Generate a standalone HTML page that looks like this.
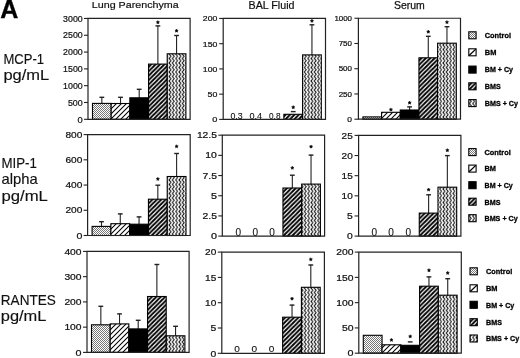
<!DOCTYPE html>
<html><head><meta charset="utf-8"><style>
html,body{margin:0;padding:0;background:#fff;}
body{width:520px;height:358px;overflow:hidden;}
svg{display:block;will-change:transform;filter:blur(0.3px);}
text{font-family:"Liberation Sans", sans-serif;}
</style></head><body>
<svg width="520" height="358" viewBox="0 0 520 358">
<defs>
<pattern id="pCtl" width="2" height="2" patternUnits="userSpaceOnUse">
<rect width="2" height="2" fill="#fff"/><rect x="0" y="0" width="1" height="1" fill="#777"/><rect x="1" y="1" width="1" height="1" fill="#777"/>
</pattern>
<pattern id="pBM" width="5" height="5" patternUnits="userSpaceOnUse">
<rect width="5" height="5" fill="#fff"/>
<path d="M-1.25,6.25 L6.25,-1.25 M-1.25,1.25 L1.25,-1.25 M3.75,6.25 L6.25,3.75" stroke="#000" stroke-width="1.05"/>
</pattern>
<pattern id="pBMS" width="4.4" height="4.4" patternUnits="userSpaceOnUse">
<rect width="4.4" height="4.4" fill="#fff"/>
<path d="M-1.1,5.5 L5.5,-1.1 M-1.1,1.1 L1.1,-1.1 M3.3,5.5 L5.5,3.3" stroke="#000" stroke-width="1.9"/>
</pattern>
<pattern id="pBMSC" width="3.3" height="4.5" patternUnits="userSpaceOnUse">
<rect width="3.3" height="4.5" fill="#fff"/>
<path d="M0.6,-0.2 L2.7,2.25 L0.6,4.7" stroke="#000" stroke-width="1.0" fill="none"/>
</pattern>
</defs>

<text x="0.30" y="17.70" font-size="25.00" font-weight="bold" text-anchor="start" fill="#000" stroke="#000" stroke-width="0.35">A</text>
<text x="91.80" y="8.10" font-size="9.90" font-weight="normal" text-anchor="start" fill="#111" stroke="#111" stroke-width="0.2" textLength="86.90" lengthAdjust="spacingAndGlyphs">Lung Parenchyma</text>
<text x="248.60" y="8.50" font-size="10.10" font-weight="normal" text-anchor="start" fill="#111" stroke="#111" stroke-width="0.2" textLength="45.90" lengthAdjust="spacingAndGlyphs">BAL Fluid</text>
<text x="394.00" y="8.70" font-size="10.60" font-weight="normal" text-anchor="start" fill="#111" stroke="#111" stroke-width="0.25" textLength="30.80" lengthAdjust="spacingAndGlyphs">Serum</text>
<text x="3.40" y="63.60" font-size="14.20" font-weight="normal" text-anchor="start" fill="#111" stroke="#111" stroke-width="0.15" textLength="40.60" lengthAdjust="spacingAndGlyphs">MCP-1</text>
<text x="3.40" y="79.90" font-size="14.20" font-weight="normal" text-anchor="start" fill="#111" stroke="#111" stroke-width="0.15" textLength="45.80" lengthAdjust="spacingAndGlyphs">pg/mL</text>
<text x="1.50" y="167.60" font-size="14.20" font-weight="normal" text-anchor="start" fill="#111" stroke="#111" stroke-width="0.15" textLength="35.40" lengthAdjust="spacingAndGlyphs">MIP-1</text>
<text x="1.50" y="184.10" font-size="14.20" font-weight="normal" text-anchor="start" fill="#111" stroke="#111" stroke-width="0.15" textLength="36.20" lengthAdjust="spacingAndGlyphs">alpha</text>
<text x="1.50" y="200.60" font-size="14.20" font-weight="normal" text-anchor="start" fill="#111" stroke="#111" stroke-width="0.15" textLength="46.40" lengthAdjust="spacingAndGlyphs">pg/mL</text>
<text x="0.80" y="305.00" font-size="14.20" font-weight="normal" text-anchor="start" fill="#111" stroke="#111" stroke-width="0.15" textLength="55.00" lengthAdjust="spacingAndGlyphs">RANTES</text>
<text x="0.80" y="321.00" font-size="14.20" font-weight="normal" text-anchor="start" fill="#111" stroke="#111" stroke-width="0.15" textLength="45.60" lengthAdjust="spacingAndGlyphs">pg/mL</text>
<line x1="101.84" y1="103.40" x2="101.84" y2="97.00" stroke="#222" stroke-width="1.1"/>
<line x1="99.44" y1="97.30" x2="104.24" y2="97.30" stroke="#222" stroke-width="1.4"/>
<rect x="92.50" y="103.40" width="18.68" height="15.90" fill="url(#pCtl)" stroke="#000" stroke-width="1.1"/>
<line x1="120.52" y1="103.50" x2="120.52" y2="97.00" stroke="#222" stroke-width="1.1"/>
<line x1="118.12" y1="97.30" x2="122.92" y2="97.30" stroke="#222" stroke-width="1.4"/>
<rect x="111.18" y="103.50" width="18.68" height="15.80" fill="url(#pBM)" stroke="#000" stroke-width="1.1"/>
<line x1="139.20" y1="97.80" x2="139.20" y2="89.00" stroke="#222" stroke-width="1.1"/>
<line x1="136.80" y1="89.30" x2="141.60" y2="89.30" stroke="#222" stroke-width="1.4"/>
<rect x="129.86" y="97.80" width="18.68" height="21.50" fill="#000" stroke="#000" stroke-width="1.1"/>
<line x1="157.88" y1="64.10" x2="157.88" y2="25.60" stroke="#222" stroke-width="1.1"/>
<line x1="155.48" y1="25.90" x2="160.28" y2="25.90" stroke="#222" stroke-width="1.4"/>
<rect x="148.54" y="64.10" width="18.68" height="55.20" fill="url(#pBMS)" stroke="#000" stroke-width="1.1"/>
<polygon points="157.88,20.60 158.38,21.61 159.50,21.77 158.69,22.56 158.88,23.68 157.88,23.15 156.88,23.68 157.07,22.56 156.26,21.77 157.38,21.61" fill="#000" stroke="#000" stroke-width="0.5"/>
<line x1="176.56" y1="53.80" x2="176.56" y2="35.20" stroke="#222" stroke-width="1.1"/>
<line x1="174.16" y1="35.50" x2="178.96" y2="35.50" stroke="#222" stroke-width="1.4"/>
<rect x="167.22" y="53.80" width="18.68" height="65.50" fill="url(#pBMSC)" stroke="#000" stroke-width="1.1"/>
<polygon points="176.56,29.10 177.06,30.11 178.18,30.27 177.37,31.06 177.56,32.18 176.56,31.65 175.56,32.18 175.75,31.06 174.94,30.27 176.06,30.11" fill="#000" stroke="#000" stroke-width="0.5"/>
<path d="M88.00,119.30 L88.00,18.45 L190.10,18.45 L190.10,119.30 Z" fill="none" stroke="#222" stroke-width="1.2"/>
<line x1="84.00" y1="119.30" x2="88.00" y2="119.30" stroke="#222" stroke-width="1.1"/>
<text x="82.70" y="122.50" font-size="8.70" font-weight="normal" text-anchor="end" fill="#111" stroke="#111" stroke-width="0.22" textLength="5.20" lengthAdjust="spacingAndGlyphs">0</text>
<line x1="84.00" y1="102.49" x2="88.00" y2="102.49" stroke="#222" stroke-width="1.1"/>
<text x="82.70" y="105.69" font-size="8.70" font-weight="normal" text-anchor="end" fill="#111" stroke="#111" stroke-width="0.22" textLength="14.80" lengthAdjust="spacingAndGlyphs">500</text>
<line x1="84.00" y1="85.68" x2="88.00" y2="85.68" stroke="#222" stroke-width="1.1"/>
<text x="82.70" y="88.88" font-size="8.70" font-weight="normal" text-anchor="end" fill="#111" stroke="#111" stroke-width="0.22" textLength="19.60" lengthAdjust="spacingAndGlyphs">1000</text>
<line x1="84.00" y1="68.88" x2="88.00" y2="68.88" stroke="#222" stroke-width="1.1"/>
<text x="82.70" y="72.08" font-size="8.70" font-weight="normal" text-anchor="end" fill="#111" stroke="#111" stroke-width="0.22" textLength="19.60" lengthAdjust="spacingAndGlyphs">1500</text>
<line x1="84.00" y1="52.07" x2="88.00" y2="52.07" stroke="#222" stroke-width="1.1"/>
<text x="82.70" y="55.27" font-size="8.70" font-weight="normal" text-anchor="end" fill="#111" stroke="#111" stroke-width="0.22" textLength="19.60" lengthAdjust="spacingAndGlyphs">2000</text>
<line x1="84.00" y1="35.26" x2="88.00" y2="35.26" stroke="#222" stroke-width="1.1"/>
<text x="82.70" y="38.46" font-size="8.70" font-weight="normal" text-anchor="end" fill="#111" stroke="#111" stroke-width="0.22" textLength="19.60" lengthAdjust="spacingAndGlyphs">2500</text>
<line x1="84.00" y1="18.45" x2="88.00" y2="18.45" stroke="#222" stroke-width="1.1"/>
<text x="82.70" y="21.65" font-size="8.70" font-weight="normal" text-anchor="end" fill="#111" stroke="#111" stroke-width="0.22" textLength="19.60" lengthAdjust="spacingAndGlyphs">3000</text>
<line x1="290.82" y1="111.60" x2="295.62" y2="111.60" stroke="#222" stroke-width="1.4"/>
<rect x="283.86" y="114.30" width="18.72" height="5.10" fill="url(#pBMS)" stroke="#000" stroke-width="1.1"/>
<polygon points="293.22,105.60 293.72,106.61 294.84,106.77 294.03,107.56 294.22,108.68 293.22,108.15 292.22,108.68 292.41,107.56 291.60,106.77 292.72,106.61" fill="#000" stroke="#000" stroke-width="0.5"/>
<line x1="311.94" y1="54.90" x2="311.94" y2="24.50" stroke="#222" stroke-width="1.1"/>
<line x1="309.54" y1="24.80" x2="314.34" y2="24.80" stroke="#222" stroke-width="1.4"/>
<rect x="302.58" y="54.90" width="18.72" height="64.50" fill="url(#pBMSC)" stroke="#000" stroke-width="1.1"/>
<polygon points="311.94,19.20 312.44,20.21 313.56,20.37 312.75,21.16 312.94,22.28 311.94,21.75 310.94,22.28 311.13,21.16 310.32,20.37 311.44,20.21" fill="#000" stroke="#000" stroke-width="0.5"/>
<text x="230.40" y="119.40" font-size="9.30" font-weight="normal" text-anchor="start" fill="#111" stroke="#111" stroke-width="0.1" textLength="12.30" lengthAdjust="spacingAndGlyphs">0.3</text>
<text x="249.40" y="119.40" font-size="9.30" font-weight="normal" text-anchor="start" fill="#111" stroke="#111" stroke-width="0.1" textLength="12.70" lengthAdjust="spacingAndGlyphs">0.4</text>
<text x="269.00" y="119.40" font-size="9.30" font-weight="normal" text-anchor="start" fill="#111" stroke="#111" stroke-width="0.1" textLength="11.50" lengthAdjust="spacingAndGlyphs">0.8</text>
<path d="M223.20,119.40 L223.20,18.45 L325.50,18.45 L325.50,119.40 Z" fill="none" stroke="#222" stroke-width="1.2"/>
<line x1="219.20" y1="119.40" x2="223.20" y2="119.40" stroke="#222" stroke-width="1.1"/>
<text x="217.30" y="122.25" font-size="7.75" font-weight="normal" text-anchor="end" fill="#111" stroke="#111" stroke-width="0.22" textLength="5.10" lengthAdjust="spacingAndGlyphs">0</text>
<line x1="219.20" y1="94.16" x2="223.20" y2="94.16" stroke="#222" stroke-width="1.1"/>
<text x="217.30" y="97.01" font-size="7.75" font-weight="normal" text-anchor="end" fill="#111" stroke="#111" stroke-width="0.22" textLength="9.80" lengthAdjust="spacingAndGlyphs">50</text>
<line x1="219.20" y1="68.93" x2="223.20" y2="68.93" stroke="#222" stroke-width="1.1"/>
<text x="217.30" y="71.78" font-size="7.75" font-weight="normal" text-anchor="end" fill="#111" stroke="#111" stroke-width="0.22" textLength="14.50" lengthAdjust="spacingAndGlyphs">100</text>
<line x1="219.20" y1="43.69" x2="223.20" y2="43.69" stroke="#222" stroke-width="1.1"/>
<text x="217.30" y="46.54" font-size="7.75" font-weight="normal" text-anchor="end" fill="#111" stroke="#111" stroke-width="0.22" textLength="14.50" lengthAdjust="spacingAndGlyphs">150</text>
<line x1="219.20" y1="18.45" x2="223.20" y2="18.45" stroke="#222" stroke-width="1.1"/>
<text x="217.30" y="21.30" font-size="7.75" font-weight="normal" text-anchor="end" fill="#111" stroke="#111" stroke-width="0.22" textLength="14.50" lengthAdjust="spacingAndGlyphs">200</text>
<rect x="362.90" y="116.90" width="18.68" height="2.30" fill="url(#pCtl)" stroke="#000" stroke-width="1.1"/>
<rect x="381.58" y="112.30" width="18.68" height="6.90" fill="url(#pBM)" stroke="#000" stroke-width="1.1"/>
<polygon points="390.92,107.90 391.42,108.91 392.54,109.07 391.73,109.86 391.92,110.98 390.92,110.45 389.92,110.98 390.11,109.86 389.30,109.07 390.42,108.91" fill="#000" stroke="#000" stroke-width="0.5"/>
<line x1="409.60" y1="110.00" x2="409.60" y2="106.60" stroke="#222" stroke-width="1.1"/>
<line x1="407.20" y1="106.90" x2="412.00" y2="106.90" stroke="#222" stroke-width="1.4"/>
<rect x="400.26" y="110.00" width="18.68" height="9.20" fill="#000" stroke="#000" stroke-width="1.1"/>
<polygon points="409.60,101.10 410.10,102.11 411.22,102.27 410.41,103.06 410.60,104.18 409.60,103.65 408.60,104.18 408.79,103.06 407.98,102.27 409.10,102.11" fill="#000" stroke="#000" stroke-width="0.5"/>
<line x1="428.28" y1="57.80" x2="428.28" y2="36.00" stroke="#222" stroke-width="1.1"/>
<line x1="425.88" y1="36.30" x2="430.68" y2="36.30" stroke="#222" stroke-width="1.4"/>
<rect x="418.94" y="57.80" width="18.68" height="61.40" fill="url(#pBMS)" stroke="#000" stroke-width="1.1"/>
<polygon points="428.28,30.10 428.78,31.11 429.90,31.27 429.09,32.06 429.28,33.18 428.28,32.65 427.28,33.18 427.47,32.06 426.66,31.27 427.78,31.11" fill="#000" stroke="#000" stroke-width="0.5"/>
<line x1="446.96" y1="43.20" x2="446.96" y2="26.40" stroke="#222" stroke-width="1.1"/>
<line x1="444.56" y1="26.70" x2="449.36" y2="26.70" stroke="#222" stroke-width="1.4"/>
<rect x="437.62" y="43.20" width="18.68" height="76.00" fill="url(#pBMSC)" stroke="#000" stroke-width="1.1"/>
<polygon points="446.96,20.50 447.46,21.51 448.58,21.67 447.77,22.46 447.96,23.58 446.96,23.05 445.96,23.58 446.15,22.46 445.34,21.67 446.46,21.51" fill="#000" stroke="#000" stroke-width="0.5"/>
<path d="M358.40,119.20 L358.40,18.25 L460.50,18.25 L460.50,119.20 Z" fill="none" stroke="#222" stroke-width="1.2"/>
<line x1="354.40" y1="119.20" x2="358.40" y2="119.20" stroke="#222" stroke-width="1.1"/>
<text x="352.00" y="121.90" font-size="7.34" font-weight="normal" text-anchor="end" fill="#111" stroke="#111" stroke-width="0.22" textLength="4.70" lengthAdjust="spacingAndGlyphs">0</text>
<line x1="354.40" y1="93.96" x2="358.40" y2="93.96" stroke="#222" stroke-width="1.1"/>
<text x="352.00" y="96.66" font-size="7.34" font-weight="normal" text-anchor="end" fill="#111" stroke="#111" stroke-width="0.22" textLength="13.30" lengthAdjust="spacingAndGlyphs">250</text>
<line x1="354.40" y1="68.72" x2="358.40" y2="68.72" stroke="#222" stroke-width="1.1"/>
<text x="352.00" y="71.42" font-size="7.34" font-weight="normal" text-anchor="end" fill="#111" stroke="#111" stroke-width="0.22" textLength="13.30" lengthAdjust="spacingAndGlyphs">500</text>
<line x1="354.40" y1="43.49" x2="358.40" y2="43.49" stroke="#222" stroke-width="1.1"/>
<text x="352.00" y="46.19" font-size="7.34" font-weight="normal" text-anchor="end" fill="#111" stroke="#111" stroke-width="0.22" textLength="13.30" lengthAdjust="spacingAndGlyphs">750</text>
<line x1="354.40" y1="18.25" x2="358.40" y2="18.25" stroke="#222" stroke-width="1.1"/>
<text x="352.00" y="20.95" font-size="7.34" font-weight="normal" text-anchor="end" fill="#111" stroke="#111" stroke-width="0.22" textLength="17.60" lengthAdjust="spacingAndGlyphs">1000</text>
<line x1="101.49" y1="226.40" x2="101.49" y2="221.40" stroke="#222" stroke-width="1.1"/>
<line x1="99.09" y1="221.70" x2="103.89" y2="221.70" stroke="#222" stroke-width="1.4"/>
<rect x="92.10" y="226.40" width="18.78" height="9.10" fill="url(#pCtl)" stroke="#000" stroke-width="1.1"/>
<line x1="120.27" y1="223.70" x2="120.27" y2="213.60" stroke="#222" stroke-width="1.1"/>
<line x1="117.87" y1="213.90" x2="122.67" y2="213.90" stroke="#222" stroke-width="1.4"/>
<rect x="110.88" y="223.70" width="18.78" height="11.80" fill="url(#pBM)" stroke="#000" stroke-width="1.1"/>
<line x1="139.05" y1="224.20" x2="139.05" y2="216.60" stroke="#222" stroke-width="1.1"/>
<line x1="136.65" y1="216.90" x2="141.45" y2="216.90" stroke="#222" stroke-width="1.4"/>
<rect x="129.66" y="224.20" width="18.78" height="11.30" fill="#000" stroke="#000" stroke-width="1.1"/>
<line x1="157.83" y1="199.20" x2="157.83" y2="184.90" stroke="#222" stroke-width="1.1"/>
<line x1="155.43" y1="185.20" x2="160.23" y2="185.20" stroke="#222" stroke-width="1.4"/>
<rect x="148.44" y="199.20" width="18.78" height="36.30" fill="url(#pBMS)" stroke="#000" stroke-width="1.1"/>
<polygon points="157.83,177.30 158.33,178.31 159.45,178.47 158.64,179.26 158.83,180.38 157.83,179.85 156.83,180.38 157.02,179.26 156.21,178.47 157.33,178.31" fill="#000" stroke="#000" stroke-width="0.5"/>
<line x1="176.61" y1="176.50" x2="176.61" y2="153.20" stroke="#222" stroke-width="1.1"/>
<line x1="174.21" y1="153.50" x2="179.01" y2="153.50" stroke="#222" stroke-width="1.4"/>
<rect x="167.22" y="176.50" width="18.78" height="59.00" fill="url(#pBMSC)" stroke="#000" stroke-width="1.1"/>
<polygon points="176.61,144.70 177.11,145.71 178.23,145.87 177.42,146.66 177.61,147.78 176.61,147.25 175.61,147.78 175.80,146.66 174.99,145.87 176.11,145.71" fill="#000" stroke="#000" stroke-width="0.5"/>
<path d="M87.60,235.50 L87.60,134.60 L190.20,134.60 L190.20,235.50 Z" fill="none" stroke="#222" stroke-width="1.2"/>
<line x1="83.60" y1="235.50" x2="87.60" y2="235.50" stroke="#222" stroke-width="1.1"/>
<text x="82.30" y="238.70" font-size="8.70" font-weight="normal" text-anchor="end" fill="#111" stroke="#111" stroke-width="0.22" textLength="5.90" lengthAdjust="spacingAndGlyphs">0</text>
<line x1="83.60" y1="210.28" x2="87.60" y2="210.28" stroke="#222" stroke-width="1.1"/>
<text x="82.30" y="213.47" font-size="8.70" font-weight="normal" text-anchor="end" fill="#111" stroke="#111" stroke-width="0.22" textLength="16.90" lengthAdjust="spacingAndGlyphs">200</text>
<line x1="83.60" y1="185.05" x2="87.60" y2="185.05" stroke="#222" stroke-width="1.1"/>
<text x="82.30" y="188.25" font-size="8.70" font-weight="normal" text-anchor="end" fill="#111" stroke="#111" stroke-width="0.22" textLength="16.90" lengthAdjust="spacingAndGlyphs">400</text>
<line x1="83.60" y1="159.82" x2="87.60" y2="159.82" stroke="#222" stroke-width="1.1"/>
<text x="82.30" y="163.02" font-size="8.70" font-weight="normal" text-anchor="end" fill="#111" stroke="#111" stroke-width="0.22" textLength="16.90" lengthAdjust="spacingAndGlyphs">600</text>
<line x1="83.60" y1="134.60" x2="87.60" y2="134.60" stroke="#222" stroke-width="1.1"/>
<text x="82.30" y="137.80" font-size="8.70" font-weight="normal" text-anchor="end" fill="#111" stroke="#111" stroke-width="0.22" textLength="16.90" lengthAdjust="spacingAndGlyphs">800</text>
<line x1="292.32" y1="188.00" x2="292.32" y2="174.90" stroke="#222" stroke-width="1.1"/>
<line x1="289.92" y1="175.20" x2="294.72" y2="175.20" stroke="#222" stroke-width="1.4"/>
<rect x="282.96" y="188.00" width="18.72" height="48.10" fill="url(#pBMS)" stroke="#000" stroke-width="1.1"/>
<polygon points="292.32,166.20 292.82,167.21 293.94,167.37 293.13,168.16 293.32,169.28 292.32,168.75 291.32,169.28 291.51,168.16 290.70,167.37 291.82,167.21" fill="#000" stroke="#000" stroke-width="0.5"/>
<line x1="311.04" y1="184.10" x2="311.04" y2="154.80" stroke="#222" stroke-width="1.1"/>
<line x1="308.64" y1="155.10" x2="313.44" y2="155.10" stroke="#222" stroke-width="1.4"/>
<rect x="301.68" y="184.10" width="18.72" height="52.00" fill="url(#pBMSC)" stroke="#000" stroke-width="1.1"/>
<polygon points="311.04,145.00 311.54,146.01 312.66,146.17 311.85,146.96 312.04,148.08 311.04,147.55 310.04,148.08 310.23,146.96 309.42,146.17 310.54,146.01" fill="#000" stroke="#000" stroke-width="0.5"/>
<text x="235.50" y="236.30" font-size="10.20" font-weight="normal" text-anchor="start" fill="#111" stroke="#111" stroke-width="0.1" textLength="5.60" lengthAdjust="spacingAndGlyphs">0</text>
<text x="252.40" y="236.30" font-size="10.20" font-weight="normal" text-anchor="start" fill="#111" stroke="#111" stroke-width="0.1" textLength="5.60" lengthAdjust="spacingAndGlyphs">0</text>
<text x="269.30" y="236.30" font-size="10.20" font-weight="normal" text-anchor="start" fill="#111" stroke="#111" stroke-width="0.1" textLength="5.60" lengthAdjust="spacingAndGlyphs">0</text>
<path d="M222.30,236.10 L222.30,135.20 L324.60,135.20 L324.60,236.10 Z" fill="none" stroke="#222" stroke-width="1.2"/>
<line x1="218.30" y1="236.10" x2="222.30" y2="236.10" stroke="#222" stroke-width="1.1"/>
<text x="216.90" y="239.20" font-size="8.43" font-weight="normal" text-anchor="end" fill="#111" stroke="#111" stroke-width="0.22" textLength="6.00" lengthAdjust="spacingAndGlyphs">0</text>
<line x1="218.30" y1="215.92" x2="222.30" y2="215.92" stroke="#222" stroke-width="1.1"/>
<text x="216.90" y="219.02" font-size="8.43" font-weight="normal" text-anchor="end" fill="#111" stroke="#111" stroke-width="0.22" textLength="14.40" lengthAdjust="spacingAndGlyphs">2.5</text>
<line x1="218.30" y1="195.74" x2="222.30" y2="195.74" stroke="#222" stroke-width="1.1"/>
<text x="216.90" y="198.84" font-size="8.43" font-weight="normal" text-anchor="end" fill="#111" stroke="#111" stroke-width="0.22" textLength="6.00" lengthAdjust="spacingAndGlyphs">5</text>
<line x1="218.30" y1="175.56" x2="222.30" y2="175.56" stroke="#222" stroke-width="1.1"/>
<text x="216.90" y="178.66" font-size="8.43" font-weight="normal" text-anchor="end" fill="#111" stroke="#111" stroke-width="0.22" textLength="14.40" lengthAdjust="spacingAndGlyphs">7.5</text>
<line x1="218.30" y1="155.38" x2="222.30" y2="155.38" stroke="#222" stroke-width="1.1"/>
<text x="216.90" y="158.48" font-size="8.43" font-weight="normal" text-anchor="end" fill="#111" stroke="#111" stroke-width="0.22" textLength="11.60" lengthAdjust="spacingAndGlyphs">10</text>
<line x1="218.30" y1="135.20" x2="222.30" y2="135.20" stroke="#222" stroke-width="1.1"/>
<text x="216.90" y="138.30" font-size="8.43" font-weight="normal" text-anchor="end" fill="#111" stroke="#111" stroke-width="0.22" textLength="20.00" lengthAdjust="spacingAndGlyphs">12.5</text>
<line x1="428.62" y1="213.10" x2="428.62" y2="194.50" stroke="#222" stroke-width="1.1"/>
<line x1="426.22" y1="194.80" x2="431.02" y2="194.80" stroke="#222" stroke-width="1.4"/>
<rect x="419.26" y="213.10" width="18.72" height="23.00" fill="url(#pBMS)" stroke="#000" stroke-width="1.1"/>
<polygon points="428.62,188.00 429.12,189.01 430.24,189.17 429.43,189.96 429.62,191.08 428.62,190.55 427.62,191.08 427.81,189.96 427.00,189.17 428.12,189.01" fill="#000" stroke="#000" stroke-width="0.5"/>
<line x1="447.34" y1="187.20" x2="447.34" y2="155.30" stroke="#222" stroke-width="1.1"/>
<line x1="444.94" y1="155.60" x2="449.74" y2="155.60" stroke="#222" stroke-width="1.4"/>
<rect x="437.98" y="187.20" width="18.72" height="48.90" fill="url(#pBMSC)" stroke="#000" stroke-width="1.1"/>
<polygon points="447.34,148.60 447.84,149.61 448.96,149.77 448.15,150.56 448.34,151.68 447.34,151.15 446.34,151.68 446.53,150.56 445.72,149.77 446.84,149.61" fill="#000" stroke="#000" stroke-width="0.5"/>
<text x="371.60" y="236.30" font-size="10.20" font-weight="normal" text-anchor="start" fill="#111" stroke="#111" stroke-width="0.1" textLength="5.60" lengthAdjust="spacingAndGlyphs">0</text>
<text x="388.30" y="236.30" font-size="10.20" font-weight="normal" text-anchor="start" fill="#111" stroke="#111" stroke-width="0.1" textLength="5.60" lengthAdjust="spacingAndGlyphs">0</text>
<text x="405.60" y="236.30" font-size="10.20" font-weight="normal" text-anchor="start" fill="#111" stroke="#111" stroke-width="0.1" textLength="5.60" lengthAdjust="spacingAndGlyphs">0</text>
<path d="M358.60,236.10 L358.60,135.40 L460.90,135.40 L460.90,236.10 Z" fill="none" stroke="#222" stroke-width="1.2"/>
<line x1="354.60" y1="236.10" x2="358.60" y2="236.10" stroke="#222" stroke-width="1.1"/>
<text x="352.70" y="239.35" font-size="8.84" font-weight="normal" text-anchor="end" fill="#111" stroke="#111" stroke-width="0.22" textLength="5.75" lengthAdjust="spacingAndGlyphs">0</text>
<line x1="354.60" y1="215.96" x2="358.60" y2="215.96" stroke="#222" stroke-width="1.1"/>
<text x="352.70" y="219.21" font-size="8.84" font-weight="normal" text-anchor="end" fill="#111" stroke="#111" stroke-width="0.22" textLength="5.75" lengthAdjust="spacingAndGlyphs">5</text>
<line x1="354.60" y1="195.82" x2="358.60" y2="195.82" stroke="#222" stroke-width="1.1"/>
<text x="352.70" y="199.07" font-size="8.84" font-weight="normal" text-anchor="end" fill="#111" stroke="#111" stroke-width="0.22" textLength="11.10" lengthAdjust="spacingAndGlyphs">10</text>
<line x1="354.60" y1="175.68" x2="358.60" y2="175.68" stroke="#222" stroke-width="1.1"/>
<text x="352.70" y="178.93" font-size="8.84" font-weight="normal" text-anchor="end" fill="#111" stroke="#111" stroke-width="0.22" textLength="11.10" lengthAdjust="spacingAndGlyphs">15</text>
<line x1="354.60" y1="155.54" x2="358.60" y2="155.54" stroke="#222" stroke-width="1.1"/>
<text x="352.70" y="158.79" font-size="8.84" font-weight="normal" text-anchor="end" fill="#111" stroke="#111" stroke-width="0.22" textLength="11.10" lengthAdjust="spacingAndGlyphs">20</text>
<line x1="354.60" y1="135.40" x2="358.60" y2="135.40" stroke="#222" stroke-width="1.1"/>
<text x="352.70" y="138.65" font-size="8.84" font-weight="normal" text-anchor="end" fill="#111" stroke="#111" stroke-width="0.22" textLength="11.10" lengthAdjust="spacingAndGlyphs">25</text>
<line x1="100.84" y1="324.80" x2="100.84" y2="306.00" stroke="#222" stroke-width="1.1"/>
<line x1="98.44" y1="306.30" x2="103.24" y2="306.30" stroke="#222" stroke-width="1.4"/>
<rect x="91.50" y="324.80" width="18.68" height="27.60" fill="url(#pCtl)" stroke="#000" stroke-width="1.1"/>
<line x1="119.52" y1="323.90" x2="119.52" y2="313.60" stroke="#222" stroke-width="1.1"/>
<line x1="117.12" y1="313.90" x2="121.92" y2="313.90" stroke="#222" stroke-width="1.4"/>
<rect x="110.18" y="323.90" width="18.68" height="28.50" fill="url(#pBM)" stroke="#000" stroke-width="1.1"/>
<line x1="138.20" y1="328.90" x2="138.20" y2="320.00" stroke="#222" stroke-width="1.1"/>
<line x1="135.80" y1="320.30" x2="140.60" y2="320.30" stroke="#222" stroke-width="1.4"/>
<rect x="128.86" y="328.90" width="18.68" height="23.50" fill="#000" stroke="#000" stroke-width="1.1"/>
<line x1="156.88" y1="296.50" x2="156.88" y2="264.20" stroke="#222" stroke-width="1.1"/>
<line x1="154.48" y1="264.50" x2="159.28" y2="264.50" stroke="#222" stroke-width="1.4"/>
<rect x="147.54" y="296.50" width="18.68" height="55.90" fill="url(#pBMS)" stroke="#000" stroke-width="1.1"/>
<line x1="175.56" y1="335.80" x2="175.56" y2="326.00" stroke="#222" stroke-width="1.1"/>
<line x1="173.16" y1="326.30" x2="177.96" y2="326.30" stroke="#222" stroke-width="1.4"/>
<rect x="166.22" y="335.80" width="18.68" height="16.60" fill="url(#pBMSC)" stroke="#000" stroke-width="1.1"/>
<path d="M87.00,352.40 L87.00,251.40 L189.10,251.40 L189.10,352.40 Z" fill="none" stroke="#222" stroke-width="1.2"/>
<line x1="83.00" y1="352.40" x2="87.00" y2="352.40" stroke="#222" stroke-width="1.1"/>
<text x="81.60" y="355.65" font-size="8.84" font-weight="normal" text-anchor="end" fill="#111" stroke="#111" stroke-width="0.22" textLength="6.00" lengthAdjust="spacingAndGlyphs">0</text>
<line x1="83.00" y1="327.15" x2="87.00" y2="327.15" stroke="#222" stroke-width="1.1"/>
<text x="81.60" y="330.40" font-size="8.84" font-weight="normal" text-anchor="end" fill="#111" stroke="#111" stroke-width="0.22" textLength="17.20" lengthAdjust="spacingAndGlyphs">100</text>
<line x1="83.00" y1="301.90" x2="87.00" y2="301.90" stroke="#222" stroke-width="1.1"/>
<text x="81.60" y="305.15" font-size="8.84" font-weight="normal" text-anchor="end" fill="#111" stroke="#111" stroke-width="0.22" textLength="17.20" lengthAdjust="spacingAndGlyphs">200</text>
<line x1="83.00" y1="276.65" x2="87.00" y2="276.65" stroke="#222" stroke-width="1.1"/>
<text x="81.60" y="279.90" font-size="8.84" font-weight="normal" text-anchor="end" fill="#111" stroke="#111" stroke-width="0.22" textLength="17.20" lengthAdjust="spacingAndGlyphs">300</text>
<line x1="83.00" y1="251.40" x2="87.00" y2="251.40" stroke="#222" stroke-width="1.1"/>
<text x="81.60" y="254.65" font-size="8.84" font-weight="normal" text-anchor="end" fill="#111" stroke="#111" stroke-width="0.22" textLength="17.20" lengthAdjust="spacingAndGlyphs">400</text>
<line x1="292.03" y1="317.20" x2="292.03" y2="304.80" stroke="#222" stroke-width="1.1"/>
<line x1="289.63" y1="305.10" x2="294.43" y2="305.10" stroke="#222" stroke-width="1.4"/>
<rect x="282.64" y="317.20" width="18.78" height="36.10" fill="url(#pBMS)" stroke="#000" stroke-width="1.1"/>
<polygon points="292.03,297.00 292.53,298.01 293.65,298.17 292.84,298.96 293.03,300.08 292.03,299.55 291.03,300.08 291.22,298.96 290.41,298.17 291.53,298.01" fill="#000" stroke="#000" stroke-width="0.5"/>
<line x1="310.81" y1="287.30" x2="310.81" y2="264.70" stroke="#222" stroke-width="1.1"/>
<line x1="308.41" y1="265.00" x2="313.21" y2="265.00" stroke="#222" stroke-width="1.4"/>
<rect x="301.42" y="287.30" width="18.78" height="66.00" fill="url(#pBMSC)" stroke="#000" stroke-width="1.1"/>
<polygon points="310.81,257.70 311.31,258.71 312.43,258.87 311.62,259.66 311.81,260.78 310.81,260.25 309.81,260.78 310.00,259.66 309.19,258.87 310.31,258.71" fill="#000" stroke="#000" stroke-width="0.5"/>
<text x="234.30" y="352.10" font-size="9.30" font-weight="normal" text-anchor="start" fill="#111" stroke="#111" stroke-width="0.1" textLength="5.60" lengthAdjust="spacingAndGlyphs">0</text>
<text x="251.60" y="352.10" font-size="9.30" font-weight="normal" text-anchor="start" fill="#111" stroke="#111" stroke-width="0.1" textLength="5.60" lengthAdjust="spacingAndGlyphs">0</text>
<text x="268.70" y="352.10" font-size="9.30" font-weight="normal" text-anchor="start" fill="#111" stroke="#111" stroke-width="0.1" textLength="5.60" lengthAdjust="spacingAndGlyphs">0</text>
<path d="M221.80,353.30 L221.80,252.10 L324.40,252.10 L324.40,353.30 Z" fill="none" stroke="#222" stroke-width="1.2"/>
<line x1="217.80" y1="353.30" x2="221.80" y2="353.30" stroke="#222" stroke-width="1.1"/>
<text x="216.30" y="356.50" font-size="8.70" font-weight="normal" text-anchor="end" fill="#111" stroke="#111" stroke-width="0.22" textLength="5.80" lengthAdjust="spacingAndGlyphs">0</text>
<line x1="217.80" y1="328.00" x2="221.80" y2="328.00" stroke="#222" stroke-width="1.1"/>
<text x="216.30" y="331.20" font-size="8.70" font-weight="normal" text-anchor="end" fill="#111" stroke="#111" stroke-width="0.22" textLength="5.80" lengthAdjust="spacingAndGlyphs">5</text>
<line x1="217.80" y1="302.70" x2="221.80" y2="302.70" stroke="#222" stroke-width="1.1"/>
<text x="216.30" y="305.90" font-size="8.70" font-weight="normal" text-anchor="end" fill="#111" stroke="#111" stroke-width="0.22" textLength="11.20" lengthAdjust="spacingAndGlyphs">10</text>
<line x1="217.80" y1="277.40" x2="221.80" y2="277.40" stroke="#222" stroke-width="1.1"/>
<text x="216.30" y="280.60" font-size="8.70" font-weight="normal" text-anchor="end" fill="#111" stroke="#111" stroke-width="0.22" textLength="11.20" lengthAdjust="spacingAndGlyphs">15</text>
<line x1="217.80" y1="252.10" x2="221.80" y2="252.10" stroke="#222" stroke-width="1.1"/>
<text x="216.30" y="255.30" font-size="8.70" font-weight="normal" text-anchor="end" fill="#111" stroke="#111" stroke-width="0.22" textLength="11.20" lengthAdjust="spacingAndGlyphs">20</text>
<rect x="363.30" y="335.30" width="18.76" height="17.90" fill="url(#pCtl)" stroke="#000" stroke-width="1.1"/>
<rect x="382.06" y="344.80" width="18.76" height="8.40" fill="url(#pBM)" stroke="#000" stroke-width="1.1"/>
<polygon points="391.44,338.30 391.94,339.31 393.06,339.47 392.25,340.26 392.44,341.38 391.44,340.85 390.44,341.38 390.63,340.26 389.82,339.47 390.94,339.31" fill="#000" stroke="#000" stroke-width="0.5"/>
<line x1="407.80" y1="341.90" x2="412.60" y2="341.90" stroke="#222" stroke-width="1.4"/>
<rect x="400.82" y="345.30" width="18.76" height="7.90" fill="#000" stroke="#000" stroke-width="1.1"/>
<polygon points="410.20,334.70 410.70,335.71 411.82,335.87 411.01,336.66 411.20,337.78 410.20,337.25 409.20,337.78 409.39,336.66 408.58,335.87 409.70,335.71" fill="#000" stroke="#000" stroke-width="0.5"/>
<line x1="428.96" y1="286.20" x2="428.96" y2="276.60" stroke="#222" stroke-width="1.1"/>
<line x1="426.56" y1="276.90" x2="431.36" y2="276.90" stroke="#222" stroke-width="1.4"/>
<rect x="419.58" y="286.20" width="18.76" height="67.00" fill="url(#pBMS)" stroke="#000" stroke-width="1.1"/>
<polygon points="428.96,268.60 429.46,269.61 430.58,269.77 429.77,270.56 429.96,271.68 428.96,271.15 427.96,271.68 428.15,270.56 427.34,269.77 428.46,269.61" fill="#000" stroke="#000" stroke-width="0.5"/>
<line x1="447.72" y1="295.20" x2="447.72" y2="278.40" stroke="#222" stroke-width="1.1"/>
<line x1="445.32" y1="278.70" x2="450.12" y2="278.70" stroke="#222" stroke-width="1.4"/>
<rect x="438.34" y="295.20" width="18.76" height="58.00" fill="url(#pBMSC)" stroke="#000" stroke-width="1.1"/>
<polygon points="447.72,271.30 448.22,272.31 449.34,272.47 448.53,273.26 448.72,274.38 447.72,273.85 446.72,274.38 446.91,273.26 446.10,272.47 447.22,272.31" fill="#000" stroke="#000" stroke-width="0.5"/>
<path d="M358.80,353.20 L358.80,252.10 L461.30,252.10 L461.30,353.20 Z" fill="none" stroke="#222" stroke-width="1.2"/>
<line x1="354.80" y1="353.20" x2="358.80" y2="353.20" stroke="#222" stroke-width="1.1"/>
<text x="353.50" y="356.40" font-size="8.70" font-weight="normal" text-anchor="end" fill="#111" stroke="#111" stroke-width="0.22" textLength="6.00" lengthAdjust="spacingAndGlyphs">0</text>
<line x1="354.80" y1="327.93" x2="358.80" y2="327.93" stroke="#222" stroke-width="1.1"/>
<text x="353.50" y="331.12" font-size="8.70" font-weight="normal" text-anchor="end" fill="#111" stroke="#111" stroke-width="0.22" textLength="11.60" lengthAdjust="spacingAndGlyphs">50</text>
<line x1="354.80" y1="302.65" x2="358.80" y2="302.65" stroke="#222" stroke-width="1.1"/>
<text x="353.50" y="305.85" font-size="8.70" font-weight="normal" text-anchor="end" fill="#111" stroke="#111" stroke-width="0.22" textLength="17.20" lengthAdjust="spacingAndGlyphs">100</text>
<line x1="354.80" y1="277.38" x2="358.80" y2="277.38" stroke="#222" stroke-width="1.1"/>
<text x="353.50" y="280.57" font-size="8.70" font-weight="normal" text-anchor="end" fill="#111" stroke="#111" stroke-width="0.22" textLength="17.20" lengthAdjust="spacingAndGlyphs">150</text>
<line x1="354.80" y1="252.10" x2="358.80" y2="252.10" stroke="#222" stroke-width="1.1"/>
<text x="353.50" y="255.30" font-size="8.70" font-weight="normal" text-anchor="end" fill="#111" stroke="#111" stroke-width="0.22" textLength="17.20" lengthAdjust="spacingAndGlyphs">200</text>
<rect x="468.80" y="31.80" width="7.3" height="7.0" fill="url(#pCtl)" stroke="#000" stroke-width="1.1"/>
<text x="484.80" y="38.10" font-size="7.60" font-weight="bold" text-anchor="start" fill="#000" stroke="#000" stroke-width="0.3" textLength="26.20" lengthAdjust="spacingAndGlyphs">Control</text>
<rect x="468.80" y="48.80" width="7.3" height="7.0" fill="#fff" stroke="#000" stroke-width="1.1"/>
<line x1="469.10" y1="55.50" x2="475.80" y2="49.10" stroke="#000" stroke-width="1.3"/>
<text x="484.80" y="55.10" font-size="7.60" font-weight="bold" text-anchor="start" fill="#000" stroke="#000" stroke-width="0.3" textLength="11.50" lengthAdjust="spacingAndGlyphs">BM</text>
<rect x="468.80" y="66.10" width="7.3" height="7.0" fill="#000" stroke="#000" stroke-width="1.1"/>
<text x="484.80" y="72.40" font-size="7.60" font-weight="bold" text-anchor="start" fill="#000" stroke="#000" stroke-width="0.3" textLength="28.20" lengthAdjust="spacingAndGlyphs">BM + Cy</text>
<rect x="468.80" y="82.80" width="7.3" height="7.0" fill="url(#pBMS)" stroke="#000" stroke-width="1.1"/>
<text x="484.80" y="89.10" font-size="7.60" font-weight="bold" text-anchor="start" fill="#000" stroke="#000" stroke-width="0.3" textLength="15.90" lengthAdjust="spacingAndGlyphs">BMS</text>
<rect x="468.80" y="99.60" width="7.3" height="7.0" fill="url(#pBMSC)" stroke="#000" stroke-width="1.1"/>
<text x="484.80" y="105.90" font-size="7.60" font-weight="bold" text-anchor="start" fill="#000" stroke="#000" stroke-width="0.3" textLength="33.20" lengthAdjust="spacingAndGlyphs">BMS + Cy</text>
<rect x="468.80" y="148.60" width="7.3" height="7.0" fill="url(#pCtl)" stroke="#000" stroke-width="1.1"/>
<text x="484.50" y="154.90" font-size="7.60" font-weight="bold" text-anchor="start" fill="#000" stroke="#000" stroke-width="0.3" textLength="26.20" lengthAdjust="spacingAndGlyphs">Control</text>
<rect x="468.80" y="165.10" width="7.3" height="7.0" fill="#fff" stroke="#000" stroke-width="1.1"/>
<line x1="469.10" y1="171.80" x2="475.80" y2="165.40" stroke="#000" stroke-width="1.3"/>
<text x="484.50" y="171.40" font-size="7.60" font-weight="bold" text-anchor="start" fill="#000" stroke="#000" stroke-width="0.3" textLength="11.50" lengthAdjust="spacingAndGlyphs">BM</text>
<rect x="468.80" y="181.70" width="7.3" height="7.0" fill="#000" stroke="#000" stroke-width="1.1"/>
<text x="484.50" y="188.00" font-size="7.60" font-weight="bold" text-anchor="start" fill="#000" stroke="#000" stroke-width="0.3" textLength="28.20" lengthAdjust="spacingAndGlyphs">BM + Cy</text>
<rect x="468.80" y="198.20" width="7.3" height="7.0" fill="url(#pBMS)" stroke="#000" stroke-width="1.1"/>
<text x="484.50" y="204.50" font-size="7.60" font-weight="bold" text-anchor="start" fill="#000" stroke="#000" stroke-width="0.3" textLength="15.90" lengthAdjust="spacingAndGlyphs">BMS</text>
<rect x="468.80" y="214.70" width="7.3" height="7.0" fill="url(#pBMSC)" stroke="#000" stroke-width="1.1"/>
<text x="484.50" y="221.00" font-size="7.60" font-weight="bold" text-anchor="start" fill="#000" stroke="#000" stroke-width="0.3" textLength="33.20" lengthAdjust="spacingAndGlyphs">BMS + Cy</text>
<rect x="470.00" y="267.80" width="7.3" height="7.0" fill="url(#pCtl)" stroke="#000" stroke-width="1.1"/>
<text x="486.00" y="274.10" font-size="7.60" font-weight="bold" text-anchor="start" fill="#000" stroke="#000" stroke-width="0.3" textLength="26.20" lengthAdjust="spacingAndGlyphs">Control</text>
<rect x="470.00" y="284.80" width="7.3" height="7.0" fill="#fff" stroke="#000" stroke-width="1.1"/>
<line x1="470.30" y1="291.50" x2="477.00" y2="285.10" stroke="#000" stroke-width="1.3"/>
<text x="486.00" y="291.10" font-size="7.60" font-weight="bold" text-anchor="start" fill="#000" stroke="#000" stroke-width="0.3" textLength="11.50" lengthAdjust="spacingAndGlyphs">BM</text>
<rect x="470.00" y="301.30" width="7.3" height="7.0" fill="#000" stroke="#000" stroke-width="1.1"/>
<text x="486.00" y="307.60" font-size="7.60" font-weight="bold" text-anchor="start" fill="#000" stroke="#000" stroke-width="0.3" textLength="28.20" lengthAdjust="spacingAndGlyphs">BM + Cy</text>
<rect x="470.00" y="318.70" width="7.3" height="7.0" fill="url(#pBMS)" stroke="#000" stroke-width="1.1"/>
<text x="486.00" y="325.00" font-size="7.60" font-weight="bold" text-anchor="start" fill="#000" stroke="#000" stroke-width="0.3" textLength="15.90" lengthAdjust="spacingAndGlyphs">BMS</text>
<rect x="470.00" y="335.00" width="7.3" height="7.0" fill="url(#pBMSC)" stroke="#000" stroke-width="1.1"/>
<text x="486.00" y="341.30" font-size="7.60" font-weight="bold" text-anchor="start" fill="#000" stroke="#000" stroke-width="0.3" textLength="33.20" lengthAdjust="spacingAndGlyphs">BMS + Cy</text>
</svg>
</body></html>
